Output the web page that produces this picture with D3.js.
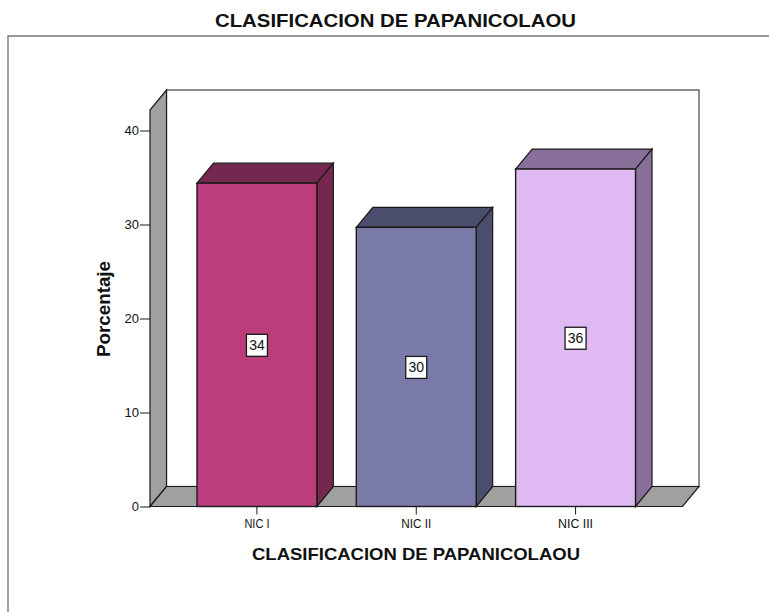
<!DOCTYPE html>
<html>
<head>
<meta charset="utf-8">
<script src="https://cdn.jsdelivr.net/npm/d3@7"></script>
<style>
  html, body { margin: 0; padding: 0; background: #fff; }
  svg { display: block; }
  text { font-family: "Liberation Sans", Arial, sans-serif; fill: #111; }
</style>
</head>
<body>
<svg id="chart" width="769" height="612"></svg>
<script>
(function(){

  // DATA ////////////////////////////////////////////////////////////////////

  var categories = ["NIC I", "NIC II", "NIC III"];
  var values = [34.4, 29.7, 35.9];
  var valueLabels = ["34", "30", "36"];
  var yTicks = [0, 10, 20, 30, 40];

  // GLOBALS /////////////////////////////////////////////////////////////////

  var frontColors = ["#bb3d7b", "#7a7ba8", "#dfb9f2"];
  var sideColors = ["#74284f", "#4b4d6d", "#88709a"];
  var wallColor = "#a0a0a0";
  var line = "#1a1a1a";

  var depthX = 16.5;
  var depthY = 20;
  var left = 150, right = 682.5, bottom = 506.5, top = 110;

  var svg = d3.select("#chart");

  var x = d3.scaleBand()
    .domain(categories)
    .range([left, right])
    .paddingInner(0.2476)
    .paddingOuter(0.295);

  var y = d3.scaleLinear()
    .domain([0, 40])
    .range([bottom, 130.5]);

  function poly(points){
    return points.map(function(p){ return p.join(","); }).join(" ");
  }

  // FRAME ///////////////////////////////////////////////////////////////////

  svg.append("path")
    .attr("d", "M8,612V36H769")
    .attr("fill", "none")
    .attr("stroke", "#777")
    .attr("stroke-width", 1.4);

  // WALLS ///////////////////////////////////////////////////////////////////

  // back wall
  svg.append("rect")
    .attr("x", left + depthX)
    .attr("y", top - depthY)
    .attr("width", right - left)
    .attr("height", bottom - top)
    .attr("fill", "#fff")
    .attr("stroke", "#444")
    .attr("stroke-width", 1.2);

  // left wall
  svg.append("polygon")
    .attr("points", poly([[left, bottom], [left, top], [left + depthX, top - depthY], [left + depthX, bottom - depthY]]))
    .attr("fill", wallColor)
    .attr("stroke", line)
    .attr("stroke-width", 1.2);

  // floor
  svg.append("polygon")
    .attr("points", poly([[left, bottom], [right, bottom], [right + depthX, bottom - depthY], [left + depthX, bottom - depthY]]))
    .attr("fill", wallColor)
    .attr("stroke", line)
    .attr("stroke-width", 1.2);

  // AXES ////////////////////////////////////////////////////////////////////

  var yAxis = svg.append("g")
    .attr("transform", "translate(" + left + ",0)")
    .call(d3.axisLeft(y).tickValues(yTicks).tickSize(10).tickPadding(1).tickSizeOuter(0));
  yAxis.select(".domain").remove();
  yAxis.selectAll("line").attr("stroke", line);
  yAxis.selectAll("text")
    .attr("font-size", 13)
    .attr("font-family", "Liberation Sans")
    .attr("fill", "#222");

  var xAxis = svg.append("g")
    .attr("transform", "translate(0," + bottom + ")")
    .call(d3.axisBottom(x).tickSize(8).tickPadding(5).tickSizeOuter(0));
  xAxis.select(".domain").remove();
  xAxis.selectAll("line").attr("stroke", line);
  xAxis.selectAll("text")
    .attr("font-size", 12)
    .attr("font-family", "Liberation Sans")
    .attr("textLength", function(d){ return d.length * 5; })
    .attr("lengthAdjust", "spacingAndGlyphs")
    .attr("fill", "#222");

  // BARS ////////////////////////////////////////////////////////////////////

  var bars = svg.selectAll("g.bar")
    .data(categories)
    .enter()
    .append("g")
    .attr("class", "bar");

  // top face
  bars.append("polygon")
    .attr("points", function(d, i){
      var x0 = x(d), x1 = x0 + x.bandwidth(), yv = y(values[i]);
      return poly([[x0, yv], [x1, yv], [x1 + depthX, yv - depthY], [x0 + depthX, yv - depthY]]);
    })
    .attr("fill", function(d, i){ return sideColors[i]; })
    .attr("stroke", line)
    .attr("stroke-width", 1.2);

  // side face
  bars.append("polygon")
    .attr("points", function(d, i){
      var x1 = x(d) + x.bandwidth(), yv = y(values[i]);
      return poly([[x1, yv], [x1 + depthX, yv - depthY], [x1 + depthX, bottom - depthY], [x1, bottom]]);
    })
    .attr("fill", function(d, i){ return sideColors[i]; })
    .attr("stroke", line)
    .attr("stroke-width", 1.2);

  // front face
  bars.append("rect")
    .attr("x", function(d){ return x(d); })
    .attr("y", function(d, i){ return y(values[i]); })
    .attr("width", x.bandwidth())
    .attr("height", function(d, i){ return bottom - y(values[i]); })
    .attr("fill", function(d, i){ return frontColors[i]; })
    .attr("stroke", line)
    .attr("stroke-width", 1.4);

  // value boxes
  bars.append("rect")
    .attr("x", function(d){ return x(d) + x.bandwidth() / 2 - 10.5; })
    .attr("y", function(d, i){ return (y(values[i]) + bottom) / 2 - 10.5; })
    .attr("width", 21)
    .attr("height", 22)
    .attr("fill", "#fff")
    .attr("stroke", line)
    .attr("stroke-width", 1.3);

  bars.append("text")
    .attr("x", function(d){ return x(d) + x.bandwidth() / 2; })
    .attr("y", function(d, i){ return (y(values[i]) + bottom) / 2 + 5; })
    .attr("text-anchor", "middle")
    .attr("font-size", 14)
    .text(function(d, i){ return valueLabels[i]; });

  // TITLES //////////////////////////////////////////////////////////////////

  svg.append("text")
    .attr("x", 395.5)
    .attr("y", 27)
    .attr("text-anchor", "middle")
    .attr("font-size", 18)
    .attr("font-weight", "bold")
    .attr("textLength", 361)
    .attr("lengthAdjust", "spacingAndGlyphs")
    .text("CLASIFICACION DE PAPANICOLAOU");

  svg.append("text")
    .attr("x", 416)
    .attr("y", 559.5)
    .attr("text-anchor", "middle")
    .attr("font-size", 17)
    .attr("font-weight", "bold")
    .attr("textLength", 328)
    .attr("lengthAdjust", "spacingAndGlyphs")
    .text("CLASIFICACION DE PAPANICOLAOU");

  svg.append("text")
    .attr("transform", "translate(110,309) rotate(-90)")
    .attr("text-anchor", "middle")
    .attr("font-size", 18)
    .attr("font-weight", "bold")
    .attr("textLength", 96)
    .attr("lengthAdjust", "spacingAndGlyphs")
    .text("Porcentaje");

})();
</script>
</body>
</html>
